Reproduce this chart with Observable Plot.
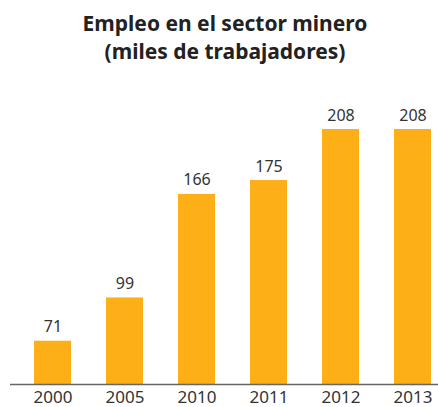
<!DOCTYPE html>
<html>
<head>
<meta charset="utf-8">
<script src="https://cdn.jsdelivr.net/npm/d3@7"></script>
<script src="https://cdn.jsdelivr.net/npm/@observablehq/plot@0.6"></script>
<style>
  html, body { margin: 0; padding: 0; background: #fff; }
  #wrap { position: relative; width: 438px; height: 407px; overflow: hidden; }
  #title {
    position: absolute; left: 12px; right: 0; top: 9px;
    text-align: center; font-family: "Noto Sans", sans-serif; font-weight: 700;
    font-size: 21px; line-height: 28px; color: #222;
  }
  #chart { position: absolute; left: 0; top: 0; }
</style>
</head>
<body>
<div id="wrap">
  <div id="chart"></div>
  <div id="title">Empleo en el sector minero<br>(miles de trabajadores)</div>
</div>
<script>
const years = ["2000", "2005", "2010", "2011", "2012", "2013"];
const workers = [71, 99, 166, 175, 208, 208];
const yDomain = [43, 208];

const data = years.map((y, i) => ({year: y, value: workers[i]}));

const chart = Plot.plot({
  width: 438,
  height: 407,
  marginTop: 129,
  marginBottom: 23,
  marginLeft: 10,
  marginRight: 0,
  style: {fontFamily: "Noto Sans, sans-serif", fontSize: "17px", color: "#333", background: "transparent"},
  x: {domain: years, paddingInner: 0.486, paddingOuter: 0.215, align: 0.774, label: null, tickSize: 0, tickPadding: 6},
  y: {domain: yDomain, axis: null},
  marks: [
    Plot.barY(data, {x: "year", y1: yDomain[0], y2: "value", fill: "#FCAF17"}),
    Plot.ruleY([yDomain[0]], {stroke: "#666", strokeWidth: 1.5}),
    Plot.text(data, {x: "year", y: "value", text: d => String(d.value), lineAnchor: "bottom", dy: -9, fill: "#333", fontSize: 16})
  ]
});
document.getElementById("chart").appendChild(chart);
</script>
</body>
</html>
